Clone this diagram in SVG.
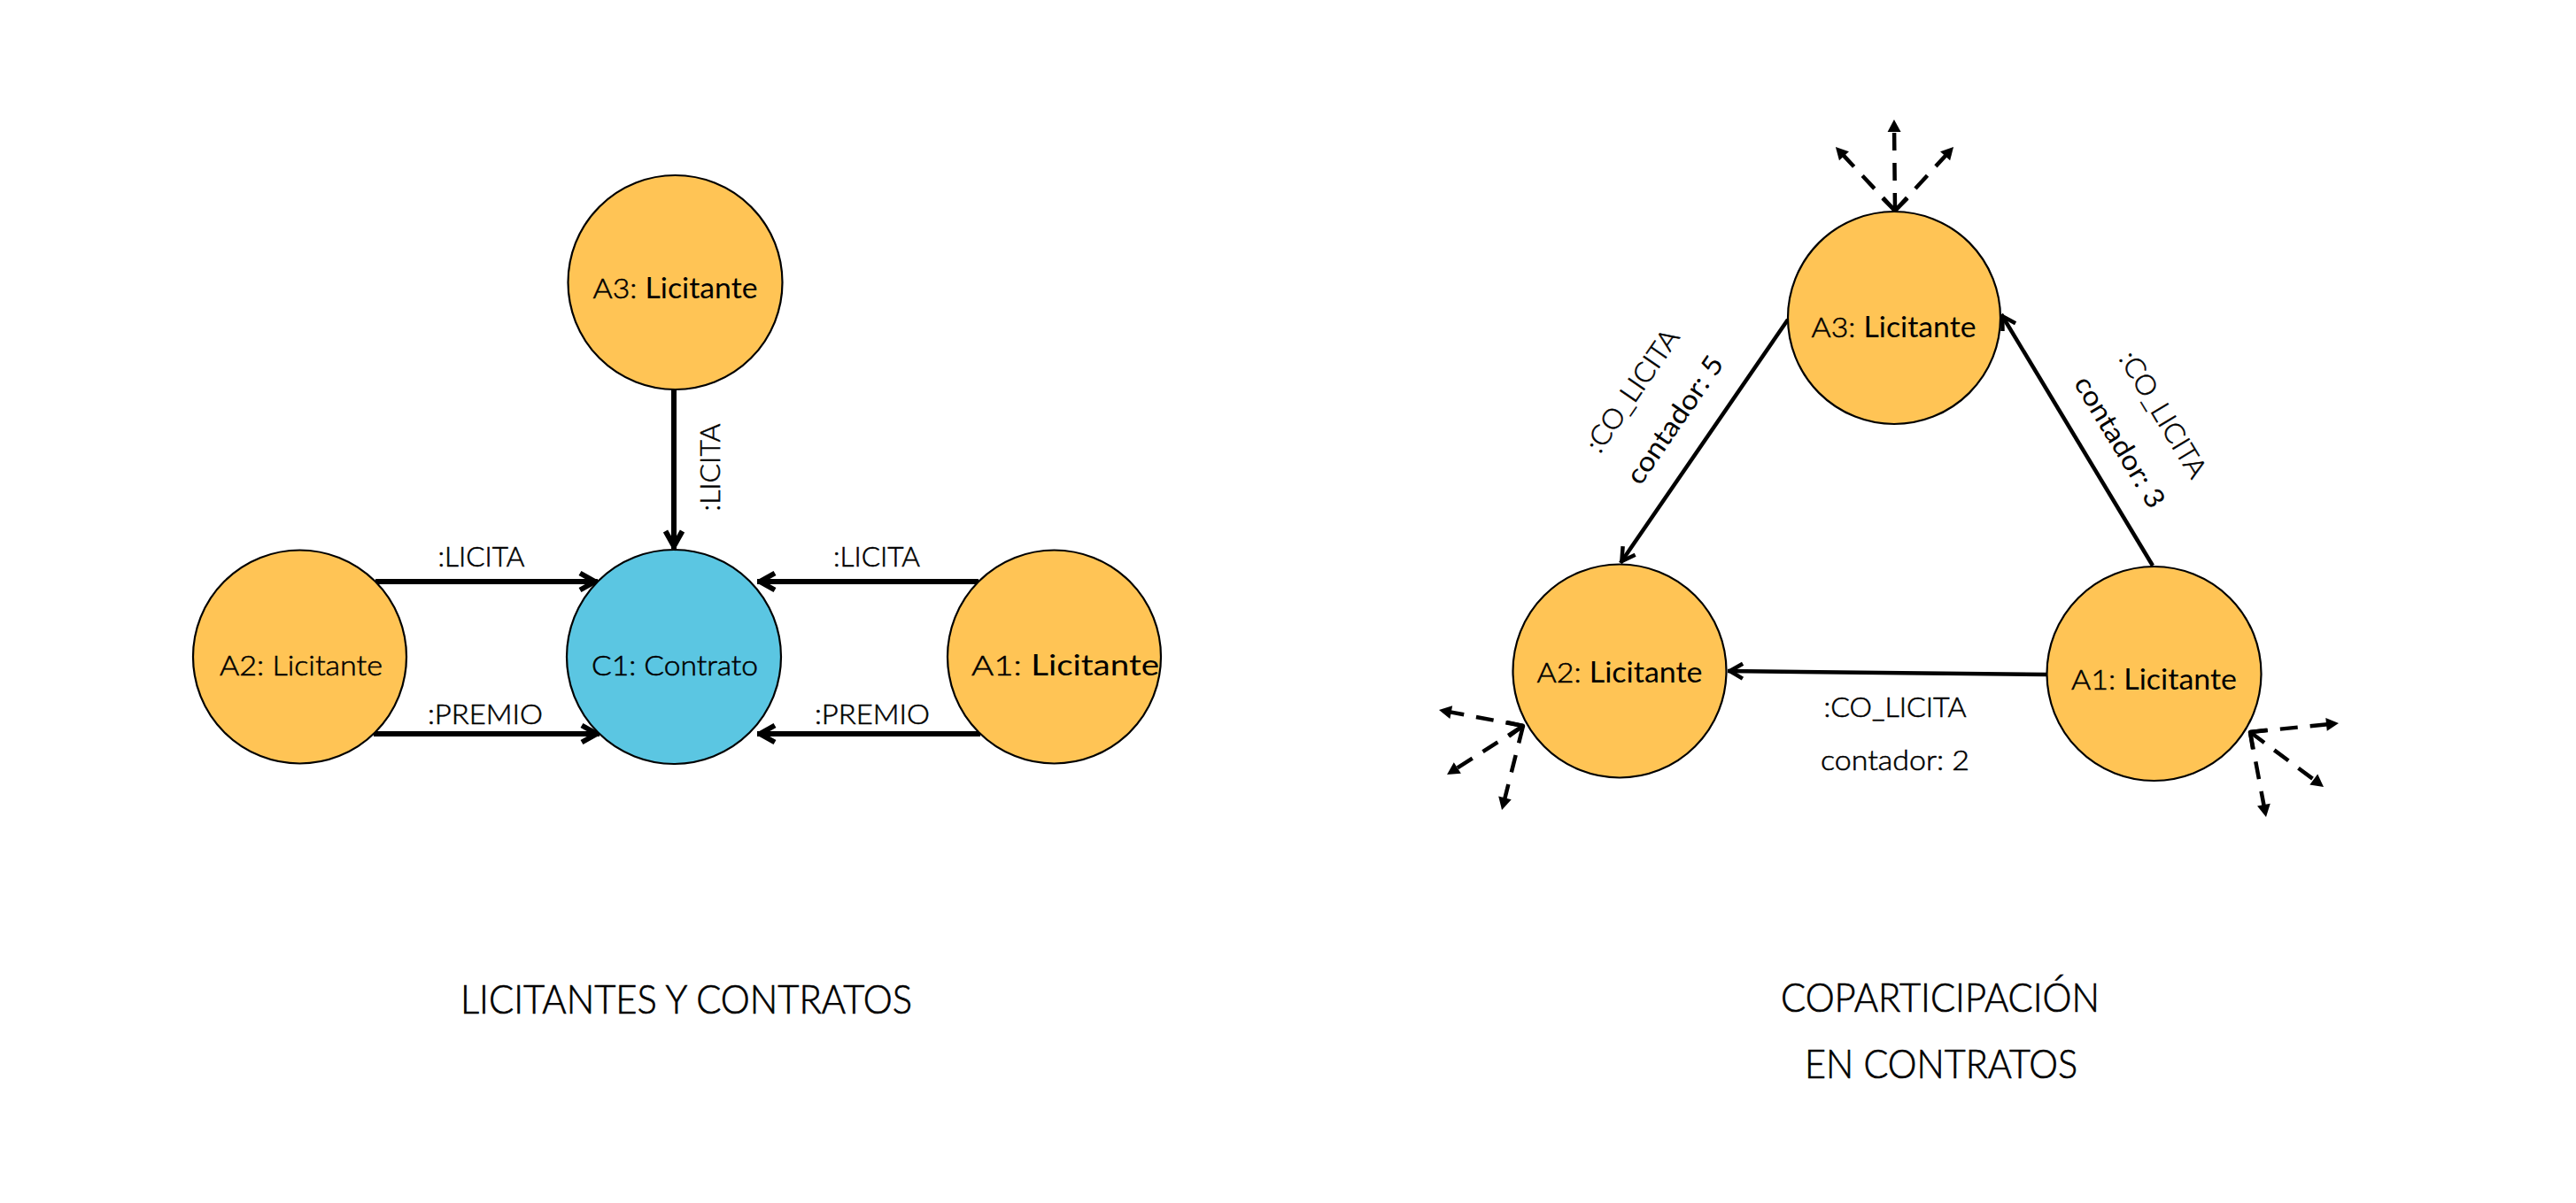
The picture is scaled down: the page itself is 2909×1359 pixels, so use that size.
<svg xmlns="http://www.w3.org/2000/svg" width="2909" height="1359" viewBox="0 0 2909 1359">
<defs>
<style>
.bg{fill:#ffffff}
.lic{fill:#FFC455;stroke:#000;stroke-width:2.2}
.con{fill:#5BC6E2;stroke:#000;stroke-width:2.2}
text{font-family:Lato,"Liberation Sans",Arial,sans-serif;fill:#000}
.nt{font-size:32px;text-anchor:middle}
.lt{font-weight:300;stroke:#000;stroke-width:0.55}
.rg{font-weight:400;stroke:none}
.el{font-size:31px;font-weight:300;text-anchor:middle;stroke:#000;stroke-width:0.55}
.elr{font-size:31px;font-weight:400;text-anchor:middle}
.title{font-size:45px;font-weight:300;text-anchor:middle;stroke:#000;stroke-width:0.7}
.e1{fill:none;stroke:#000;stroke-width:6}
.e2{fill:none;stroke:#000;stroke-width:4.5}
.ch{fill:none;stroke:#000;stroke-width:4.5;stroke-linejoin:round;stroke-linecap:butt}
.dash{fill:none;stroke:#000;stroke-width:4.5;stroke-dasharray:20 14}
marker{overflow:visible}
</style>
<marker id="chevL" markerUnits="userSpaceOnUse" viewBox="-24 -12 26 24" refX="0" refY="0" markerWidth="26" markerHeight="24" orient="auto">
<path d="M-20,-9.5 L-3,0 L-20,9.5" fill="none" stroke="#000" stroke-width="6" stroke-linejoin="round"/>
</marker>
<marker id="chevR" markerUnits="userSpaceOnUse" viewBox="-22 -11 24 22" refX="0" refY="0" markerWidth="24" markerHeight="22" orient="auto">
<path d="M-17,-8.5 L-2.5,0 L-17,8.5" fill="none" stroke="#000" stroke-width="4.5" stroke-linejoin="round"/>
</marker>
<marker id="tri" markerUnits="userSpaceOnUse" viewBox="-16 -8 18 16" refX="-6" refY="0" markerWidth="18" markerHeight="16" orient="auto">
<path d="M-14,-7.5 L0,0 L-14,7.5 z" fill="#000"/>
</marker>
</defs>
<rect class="bg" x="0" y="0" width="2909" height="1359"/>

<g id="connectors">
<!-- left diagram -->
<line class="e1" x1="761" y1="440" x2="761" y2="620" marker-end="url(#chevL)"/>
<line class="e1" x1="424" y1="657" x2="675" y2="657" marker-end="url(#chevL)"/>
<line class="e1" x1="422" y1="829" x2="677" y2="829" marker-end="url(#chevL)"/>
<line class="e1" x1="1105" y1="657" x2="855" y2="657" marker-end="url(#chevL)"/>
<line class="e1" x1="1107" y1="829" x2="855" y2="829" marker-end="url(#chevL)"/>
<!-- right diagram -->
<line class="e2" x1="2019" y1="361" x2="1830" y2="636" marker-end="url(#chevR)"/>
<line class="e2" x1="2431" y1="639" x2="2260" y2="355" marker-end="url(#chevR)"/>
<line class="e2" x1="2312" y1="762" x2="1951" y2="758" marker-end="url(#chevR)"/>
<!-- dashed stubs A3 -->
<line class="dash" x1="2140" y1="238" x2="2139" y2="141" marker-end="url(#tri)"/>
<line class="dash" x1="2140" y1="238" x2="2077" y2="170.4" marker-end="url(#tri)"/>
<line class="dash" x1="2140" y1="238" x2="2202" y2="170.4" marker-end="url(#tri)"/>
<polyline class="ch" points="2126,224 2140,238 2154,224"/>
<!-- dashed stubs A2 -->
<line class="dash" x1="1720" y1="820" x2="1630.9" y2="803.1" marker-end="url(#tri)"/>
<line class="dash" x1="1720" y1="820" x2="1639.1" y2="871.8" marker-end="url(#tri)"/>
<line class="dash" x1="1720" y1="820" x2="1697.5" y2="909.2" marker-end="url(#tri)"/>
<polyline class="ch" points="1701.7,816 1720,820 1704,831.7"/>
<!-- dashed stubs A1 -->
<line class="dash" x1="2541" y1="827" x2="2635" y2="817.6" marker-end="url(#tri)"/>
<line class="dash" x1="2541" y1="827" x2="2619.2" y2="885.4" marker-end="url(#tri)"/>
<line class="dash" x1="2541" y1="827" x2="2557.9" y2="917.1" marker-end="url(#tri)"/>
<polyline class="ch" points="2559.9,824.7 2541,827 2544,845.8"/>

<!-- edge labels left -->
<text class="el" x="543.5" y="640" textLength="98" lengthAdjust="spacingAndGlyphs">:LICITA</text>
<text class="el" x="548" y="818" textLength="130" lengthAdjust="spacingAndGlyphs">:PREMIO</text>
<text class="el" x="990" y="640" textLength="98" lengthAdjust="spacingAndGlyphs">:LICITA</text>
<text class="el" x="985" y="818" textLength="130" lengthAdjust="spacingAndGlyphs">:PREMIO</text>
<text class="el" transform="translate(802,528) rotate(-90)" x="0" y="11" textLength="99" lengthAdjust="spacingAndGlyphs">:LICITA</text>
<!-- edge labels right -->
<text class="el" transform="translate(1843,441) rotate(-55.5)" x="0" y="11" textLength="161" lengthAdjust="spacingAndGlyphs">:CO_LICITA</text>
<text class="elr" transform="translate(1891,474) rotate(-55.5)" x="0" y="11" textLength="168" lengthAdjust="spacingAndGlyphs">contador: 5</text>
<text class="el" transform="translate(2443,468) rotate(58.9)" x="0" y="11" textLength="161" lengthAdjust="spacingAndGlyphs">:CO_LICITA</text>
<text class="elr" transform="translate(2394,499) rotate(58.9)" x="0" y="11" textLength="168" lengthAdjust="spacingAndGlyphs">contador: 3</text>
<text class="el" x="2140" y="810" textLength="161" lengthAdjust="spacingAndGlyphs">:CO_LICITA</text>
<text class="el" x="2140" y="870" textLength="168" lengthAdjust="spacingAndGlyphs">contador: 2</text>
</g>

<g id="L-A3">
<circle class="lic" cx="762.5" cy="319" r="121"/>
<text class="nt" x="762.5" y="337" textLength="186" lengthAdjust="spacingAndGlyphs"><tspan class="lt">A3: </tspan><tspan class="rg">Licitante</tspan></text>
</g>
<g id="L-A2">
<circle class="lic" cx="338.5" cy="742" r="120.5"/>
<text class="nt lt" x="340" y="763" textLength="184" lengthAdjust="spacingAndGlyphs">A2: Licitante</text>
</g>
<g id="L-C1">
<circle class="con" cx="761" cy="742" r="121"/>
<text class="nt lt" x="762" y="763" textLength="188" lengthAdjust="spacingAndGlyphs">C1: Contrato</text>
</g>
<g id="L-A1">
<circle class="lic" cx="1190.5" cy="742" r="120.5"/>
<text class="nt" x="1203" y="763" textLength="212" lengthAdjust="spacingAndGlyphs"><tspan class="lt">A1: </tspan><tspan class="rg">Licitante</tspan></text>
</g>

<g id="R-A3">
<circle class="lic" cx="2139" cy="359" r="120"/>
<text class="nt" x="2138.5" y="381" textLength="186" lengthAdjust="spacingAndGlyphs"><tspan class="lt">A3: </tspan><tspan class="rg">Licitante</tspan></text>
</g>
<g id="R-A2">
<circle class="lic" cx="1829" cy="758" r="120.5"/>
<text class="nt" x="1829" y="771" textLength="187" lengthAdjust="spacingAndGlyphs"><tspan class="lt">A2: </tspan><tspan class="rg">Licitante</tspan></text>
</g>
<g id="R-A1">
<circle class="lic" cx="2432.5" cy="761" r="121"/>
<text class="nt" x="2432.5" y="779" textLength="187" lengthAdjust="spacingAndGlyphs"><tspan class="lt">A1: </tspan><tspan class="rg">Licitante</tspan></text>
</g>

<g id="titles">
<text class="title" x="775" y="1145" textLength="510" lengthAdjust="spacingAndGlyphs">LICITANTES Y CONTRATOS</text>
<text class="title" x="2191" y="1143" textLength="360" lengthAdjust="spacingAndGlyphs">COPARTICIPACIÓN</text>
<text class="title" x="2192" y="1218" textLength="308" lengthAdjust="spacingAndGlyphs">EN CONTRATOS</text>
</g>
</svg>
